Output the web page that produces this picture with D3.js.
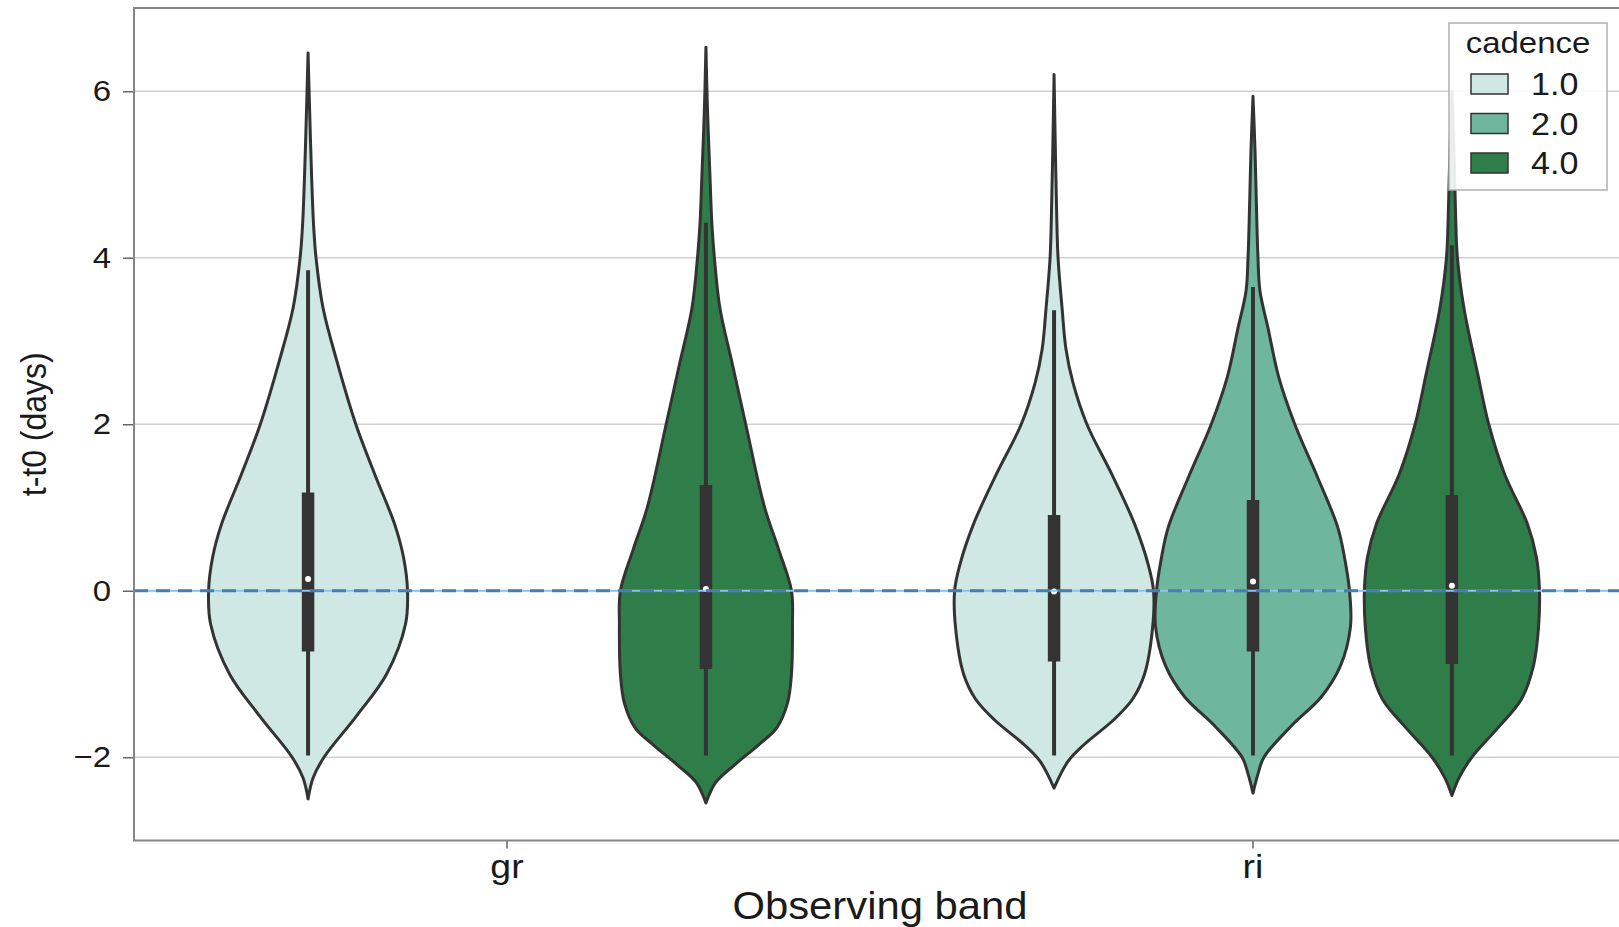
<!DOCTYPE html>
<html>
<head>
<meta charset="utf-8">
<script src="https://cdn.jsdelivr.net/npm/d3@7/dist/d3.min.js"></script>
<style>
  body { margin: 0; background: #fff; }
  text { font-family: "Liberation Sans", Arial, Helvetica, sans-serif; fill: #1a1a1a; }
</style>
</head>
<body>
<script>
// ---- data ----
const bands = ["gr", "ri"];
const cadences = ["1.0", "2.0", "4.0"];
const cadenceColors = ["#d0e8e3", "#6eb69d", "#2f7e4a"];
const yTicks = [-2, 0, 2, 4, 6];

// one entry per violin (gr has no 2.0 cadence)
const groupBand    = ["gr", "gr", "ri", "ri", "ri"];
const groupCadence = ["1.0", "4.0", "1.0", "2.0", "4.0"];

// density outline: t-t0 values and relative density (1 = widest allowed)
const violinT = [
  [6.46, 5.8, 5.0, 4.4, 4.0, 3.4, 2.8, 2.0, 1.4, 0.8, 0.4, 0.0, -0.4, -1.0, -1.5, -2.0, -2.25, -2.5],
  [6.53, 5.8, 5.0, 4.4, 4.0, 3.4, 2.7, 2.0, 1.0, 0.5, 0.0, -0.4, -1.0, -1.35, -1.65, -1.85, -2.1, -2.3, -2.55],
  [6.2, 5.5, 4.6, 4.0, 3.4, 2.9, 2.5, 2.0, 1.4, 0.8, 0.3, 0.0, -0.45, -1.0, -1.3, -1.55, -1.85, -2.05, -2.37],
  [5.94, 5.3, 4.6, 4.0, 3.6, 3.16, 2.56, 2.0, 1.36, 0.77, 0.4, 0.0, -0.43, -0.9, -1.27, -1.63, -2.0, -2.2, -2.43],
  [6.0, 5.3, 4.6, 4.0, 3.4, 2.6, 2.0, 1.4, 0.8, 0.4, 0.0, -0.45, -0.9, -1.3, -1.65, -2.0, -2.25, -2.46]
];
const violinDensity = [
  [0, 0.015, 0.035, 0.055, 0.08, 0.15, 0.28, 0.48, 0.67, 0.87, 0.96, 1.0, 0.98, 0.79, 0.49, 0.16, 0.05, 0],
  [0, 0.015, 0.04, 0.06, 0.085, 0.14, 0.27, 0.4, 0.59, 0.73, 0.86, 0.87, 0.86, 0.82, 0.71, 0.53, 0.28, 0.1, 0],
  [0, 0.01, 0.025, 0.04, 0.08, 0.12, 0.19, 0.33, 0.58, 0.81, 0.95, 1.0, 0.99, 0.91, 0.79, 0.6, 0.3, 0.14, 0],
  [0, 0.02, 0.035, 0.05, 0.07, 0.15, 0.26, 0.42, 0.65, 0.85, 0.92, 0.97, 0.98, 0.88, 0.69, 0.38, 0.11, 0.05, 0],
  [0, 0.02, 0.035, 0.055, 0.12, 0.26, 0.37, 0.53, 0.76, 0.85, 0.88, 0.87, 0.82, 0.7, 0.46, 0.2, 0.07, 0]
];

// inner box
const whiskerLow  = [-1.98, -1.98, -1.98, -1.98, -1.98];
const quart1      = [-0.73, -0.94, -0.85, -0.73, -0.88];
const medians     = [0.14, 0.02, -0.01, 0.11, 0.06];
const quart3      = [1.18, 1.27, 0.91, 1.09, 1.15];
const whiskerHigh = [3.85, 4.42, 3.37, 3.65, 4.15];

// ---- layout ----
const width = 1619, height = 927;
const margin = {top: 8, left: 134, bottom: 86.5};
const catWidth = 746;
const stretch = 1.1;   // text in the picture is a bit wide

const svg = d3.select("body").append("svg")
    .attr("width", width)
    .attr("height", height);

const x = d3.scaleBand()
    .domain(bands)
    .range([margin.left, margin.left + 2 * catWidth]);

const hue = d3.scaleBand()
    .domain(cadences)
    .range([0.1 * catWidth, 0.9 * catWidth]);

const y = d3.scaleLinear()
    .domain([-3, 7])
    .range([height - margin.bottom, margin.top]);

const w = d3.scaleLinear()
    .domain([0, 1])
    .range([0, hue.bandwidth() / 2]);

const color = d3.scaleOrdinal().domain(cadences).range(cadenceColors);

const plotRight = margin.left + 2 * catWidth;

svg.append("clipPath").attr("id", "plotclip")
  .append("rect")
    .attr("x", margin.left).attr("y", margin.top)
    .attr("width", plotRight - margin.left)
    .attr("height", y(-3) - margin.top);

// grid
svg.append("g")
  .selectAll("line")
  .data(yTicks)
  .join("line")
    .attr("x1", margin.left).attr("x2", plotRight)
    .attr("y1", d => y(d)).attr("y2", d => y(d))
    .attr("stroke", "#cfcfcf")
    .attr("stroke-width", 1.5);

// axes
const yAxis = g => g
    .attr("transform", `translate(${margin.left},0)`)
    .call(d3.axisLeft(y).tickValues(yTicks).tickSize(11).tickPadding(12)
        .tickFormat(d => d < 0 ? "\u2212" + Math.abs(d) : d))
    .call(g => g.select(".domain").remove())
    .call(g => g.selectAll(".tick line").attr("stroke", "#666").attr("stroke-width", 1.5))
    .call(g => g.selectAll(".tick text")
        .attr("font-size", 30).attr("fill", "#1a1a1a")
        .attr("font-family", "Liberation Sans, Arial, sans-serif")
        .attr("x", 0)
        .attr("transform", `translate(-23,0) scale(${stretch},1)`));

const xAxis = g => g
    .attr("transform", `translate(0,${y(-3)})`)
    .call(d3.axisBottom(x).tickSize(8).tickPadding(5))
    .call(g => g.select(".domain").remove())
    .call(g => g.selectAll(".tick line").attr("stroke", "#666").attr("stroke-width", 1.5))
    .call(g => g.selectAll(".tick text")
        .attr("font-size", 34).attr("fill", "#1a1a1a")
        .attr("font-family", "Liberation Sans, Arial, sans-serif")
        .attr("transform", `scale(${stretch},1)`));

svg.append("g").call(yAxis);
svg.append("g").call(xAxis);

// violins
const groups = groupBand.map((b, i) => ({
  band: b,
  cadence: groupCadence[i],
  cx: x(b) + hue(groupCadence[i]) + hue.bandwidth() / 2,
  pts: violinT[i].map((t, j) => [t, violinDensity[i][j]]),
  lo: whiskerLow[i], q1: quart1[i], med: medians[i], q3: quart3[i], hi: whiskerHigh[i]
}));

const vg = svg.append("g").attr("clip-path", "url(#plotclip)");

const violin = vg.selectAll("g.violin")
  .data(groups)
  .join("g")
    .attr("class", "violin");

violin.append("path")
    .attr("d", d => d3.area()
        .curve(d3.curveCatmullRom.alpha(0.5))
        .y(p => y(p[0]))
        .x0(p => d.cx - w(p[1]))
        .x1(p => d.cx + w(p[1]))(d.pts))
    .attr("fill", d => color(d.cadence))
    .attr("stroke", "#333333")
    .attr("stroke-width", 3)
    .attr("stroke-linejoin", "round");

// whisker
violin.append("line")
    .attr("x1", d => d.cx).attr("x2", d => d.cx)
    .attr("y1", d => y(d.lo)).attr("y2", d => y(d.hi))
    .attr("stroke", "#333333")
    .attr("stroke-width", 4);

// box
violin.append("line")
    .attr("x1", d => d.cx).attr("x2", d => d.cx)
    .attr("y1", d => y(d.q1)).attr("y2", d => y(d.q3))
    .attr("stroke", "#333333")
    .attr("stroke-width", 12.5);

// zero reference lines
vg.append("line")
    .attr("x1", margin.left).attr("x2", plotRight)
    .attr("y1", y(0)).attr("y2", y(0))
    .attr("stroke", "#8ac6ea")
    .attr("stroke-width", 2);
vg.append("line")
    .attr("x1", margin.left).attr("x2", plotRight)
    .attr("y1", y(0)).attr("y2", y(0))
    .attr("stroke", "#4a7cb3")
    .attr("stroke-width", 3)
    .attr("stroke-dasharray", "14,8");

// median dots
violin.append("circle")
    .attr("cx", d => d.cx)
    .attr("cy", d => y(d.med))
    .attr("r", 3)
    .attr("fill", "#fff");

// spines
svg.append("path")
    .attr("d", `M${plotRight},${margin.top}H${margin.left}V${y(-3)}H${plotRight}`)
    .attr("fill", "none")
    .attr("stroke", "#858585")
    .attr("stroke-width", 2);

// axis labels
svg.append("text")
    .attr("transform", `translate(${x("gr") + catWidth},919) scale(${stretch},1)`)
    .attr("text-anchor", "middle")
    .attr("font-size", 38)
    .text("Observing band");

svg.append("text")
    .attr("transform", `translate(46,${(margin.top + y(-3)) / 2}) scale(${stretch},1) rotate(-90)`)
    .attr("text-anchor", "middle")
    .attr("font-size", 32)
    .text("t-t0 (days)");

// legend
const lg = svg.append("g").attr("transform", "translate(1449,23)");
lg.append("rect")
    .attr("width", 158).attr("height", 167)
    .attr("fill", "#fff").attr("fill-opacity", 0.9)
    .attr("stroke", "#b0b0b0").attr("stroke-width", 1.5);
lg.append("text")
    .attr("transform", `translate(79,30) scale(${stretch},1)`)
    .attr("text-anchor", "middle")
    .attr("font-size", 30)
    .text("cadence");
const item = lg.selectAll("g.item")
  .data(cadences)
  .join("g")
    .attr("class", "item")
    .attr("transform", (d, i) => `translate(0,${61 + i * 39.5})`);
item.append("rect")
    .attr("x", 22).attr("y", -10)
    .attr("width", 37).attr("height", 20)
    .attr("fill", d => color(d))
    .attr("stroke", "#333").attr("stroke-width", 1.5);
item.append("text")
    .attr("transform", `translate(82,11) scale(${stretch},1)`)
    .attr("font-size", 31)
    .text(d => d);
</script>
</body>
</html>
